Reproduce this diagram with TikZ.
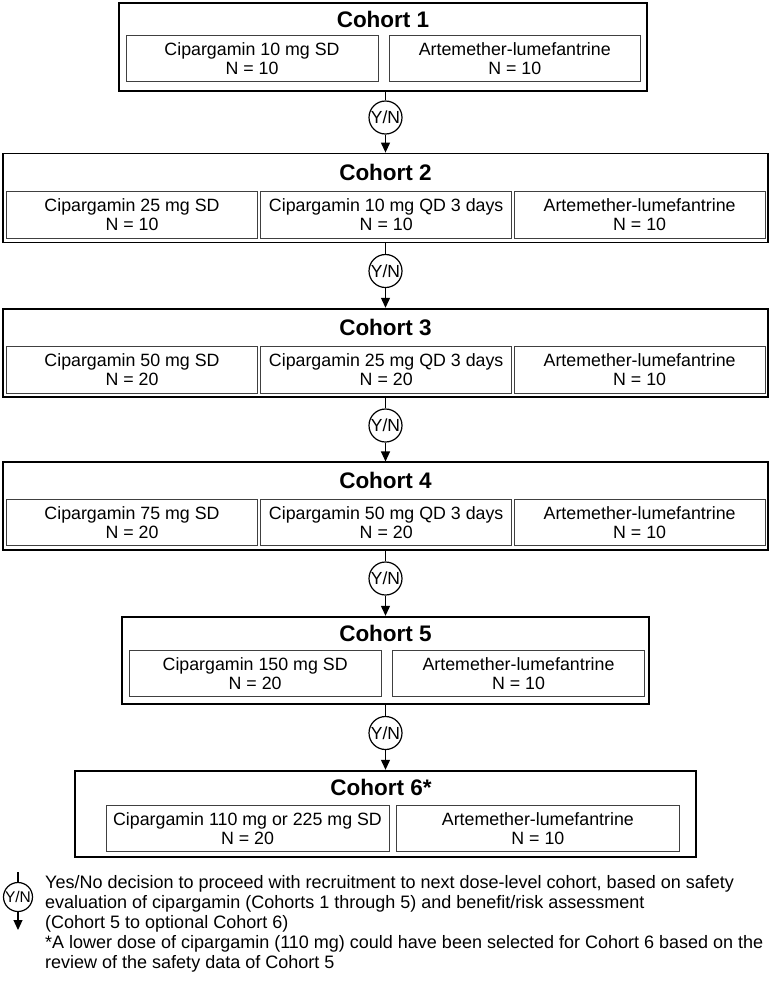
\documentclass[tikz,border=0pt]{standalone}
\usepackage{fontspec}
\setmainfont{Liberation Sans}
\usetikzlibrary{arrows.meta}

\begin{document}
\begin{tikzpicture}[
    x=1pt, y=-1pt,
    cohort/.style={draw, line width=1.8pt, inner sep=0pt},
    arm/.style={draw=black!75, line width=1pt, align=center, inner sep=0pt,
        minimum height=46.6pt, font=\fontsize{17.8}{19}\selectfont},
    title/.style={inner sep=0pt, font=\fontsize{22.5}{24}\selectfont\bfseries},
    yn/.style={draw, circle, line width=1.2pt, minimum size=33pt, inner sep=0pt,
        font=\fontsize{17.5}{18}\selectfont},
    go/.style={line width=1.2pt, -{Triangle[width=9pt,length=10pt]}}
]
\useasboundingbox (0,0) rectangle (772,991);

\node[cohort, minimum width=528pt, minimum height=88pt] (c1) at (383,47) {};
\node[title] (t1) at (383,19) {Cohort 1};
\node[arm, minimum width=252pt] (c1a) at (252,58.5) {Cipargamin 10 mg SD\\N = 10};
\node[arm, minimum width=251.5pt] (c1b) at (514.75,58.5) {Artemether-lumefantrine\\N = 10};

\node[cohort, minimum width=764.4pt, minimum height=89pt] (c2) at (385.5,198) {};
\node[title] (t2) at (385.5,172.6) {Cohort 2};
\node[arm, minimum width=250.6pt] (c2a) at (132,215) {Cipargamin 25 mg SD\\N = 10};
\node[arm, minimum width=251pt] (c2b) at (386.2,215) {Cipargamin 10 mg QD 3 days\\N = 10};
\node[arm, minimum width=251.3pt] (c2c) at (639.65,215) {Artemether-lumefantrine\\N = 10};

\node[cohort, minimum width=764.4pt, minimum height=88.6pt] (c3) at (385.5,353) {};
\node[title] (t3) at (385.5,327.3) {Cohort 3};
\node[arm, minimum width=250.6pt] (c3a) at (132,369.7) {Cipargamin 50 mg SD\\N = 20};
\node[arm, minimum width=251pt] (c3b) at (386.2,369.7) {Cipargamin 25 mg QD 3 days\\N = 20};
\node[arm, minimum width=251.3pt] (c3c) at (639.65,369.7) {Artemether-lumefantrine\\N = 10};

\node[cohort, minimum width=764.4pt, minimum height=87.7pt] (c4) at (385.5,506.2) {};
\node[title] (t4) at (385.5,480.6) {Cohort 4};
\node[arm, minimum width=250.6pt] (c4a) at (132,522.5) {Cipargamin 75 mg SD\\N = 20};
\node[arm, minimum width=251pt] (c4b) at (386.2,522.5) {Cipargamin 50 mg QD 3 days\\N = 20};
\node[arm, minimum width=251.3pt] (c4c) at (639.65,522.5) {Artemether-lumefantrine\\N = 10};

\node[cohort, minimum width=527.6pt, minimum height=87.6pt] (c5) at (385.5,660.5) {};
\node[title] (t5) at (385.5,633.4) {Cohort 5};
\node[arm, minimum width=251.7pt] (c5a) at (255.15,673.4) {Cipargamin 150 mg SD\\N = 20};
\node[arm, minimum width=251.6pt] (c5b) at (518.5,673.4) {Artemether-lumefantrine\\N = 10};

\node[cohort, minimum width=621pt, minimum height=86pt] (c6) at (385.5,813.7) {};
\node[title] (t6) at (381,787.9) {Cohort 6*};
\node[arm, minimum width=283pt] (c6a) at (247.5,828.4) {Cipargamin 110 mg or 225 mg SD\\N = 20};
\node[arm, minimum width=283.7pt] (c6b) at (537.85,828.4) {Artemether-lumefantrine\\N = 10};

\node[yn] (yn1) at (385.5,117.5) {Y/N};
\node[yn] (yn2) at (385.5,271) {Y/N};
\node[yn] (yn3) at (385.5,425.5) {Y/N};
\node[yn] (yn4) at (385.5,578.5) {Y/N};
\node[yn] (yn5) at (385.5,733) {Y/N};

\draw[line width=1.2pt] (c1.south -| yn1) -- (yn1);
\draw[go] (yn1) -- (c2);
\foreach \i/\j in {2/3,3/4,4/5,5/6} {
    \draw[line width=1.2pt] (c\i) -- (yn\i);
    \draw[go] (yn\i) -- (c\j);
}

% legend
\node[yn, minimum size=29pt, font=\fontsize{15.5}{16}\selectfont] (ynkey) at (18,897) {Y/N};
\coordinate (keytop) at (18,872);
\coordinate (keyend) at (18,930);
\draw[line width=1.2pt] (keytop) -- (ynkey);
\draw[go] (ynkey) -- (keyend);
\node[anchor=north west, align=left, inner sep=0pt,
    font=\fontsize{18}{20}\selectfont] (note) at (45,875)
    {Yes/No decision to proceed with recruitment to next dose-level cohort, based on safety\\
     evaluation of cipargamin (Cohorts 1 through 5) and benefit/risk assessment\\
     (Cohort 5 to optional Cohort 6)\\
     *A lower dose of cipargamin (110 mg) could have been selected for Cohort 6 based on the\\
     review of the safety data of Cohort 5};
\end{tikzpicture}
\end{document}
